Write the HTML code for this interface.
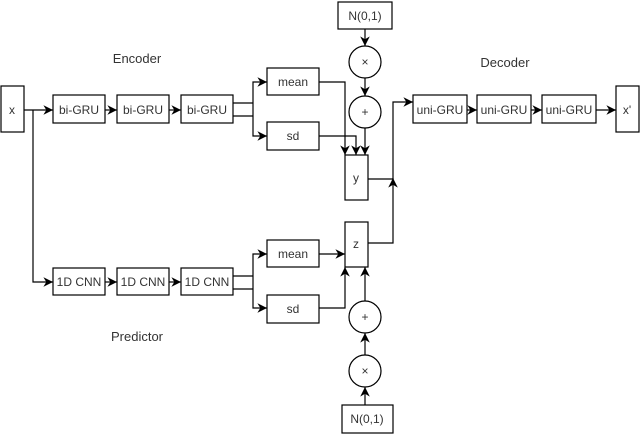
<!DOCTYPE html>
<html><head><style>body{margin:0;background:#fff}svg{display:block}</style></head><body>
<svg width="640" height="434" viewBox="0 0 640 434" xmlns="http://www.w3.org/2000/svg" font-family="Liberation Sans, sans-serif" font-size="12" fill="none" stroke="#000" stroke-width="1.2">
<defs><marker id="a" viewBox="0 0 10 10" refX="10" refY="5" markerWidth="8" markerHeight="8" orient="auto"><path d="M0,0L10,5L0,10L3,5z" fill="#000" stroke="none"/></marker></defs>
<g fill="#fff">
<rect x="1" y="86" width="23" height="46"/>
<rect x="53" y="95" width="52" height="28"/><rect x="117" y="95" width="52" height="28"/><rect x="181" y="95" width="52" height="28"/>
<rect x="53" y="268" width="52" height="27"/><rect x="117" y="268" width="52" height="27"/><rect x="181" y="268" width="52" height="27"/>
<rect x="267" y="68" width="52" height="27"/><rect x="267" y="122" width="52" height="28"/>
<rect x="267" y="240" width="52" height="27"/><rect x="267" y="295" width="52" height="28"/>
<rect x="345" y="155" width="23" height="45"/><rect x="345" y="222" width="23" height="45"/>
<rect x="338" y="2" width="54" height="27"/><rect x="342" y="405" width="51" height="28"/>
<circle cx="365" cy="62" r="16"/><circle cx="365" cy="112" r="16"/>
<circle cx="365" cy="317" r="16"/><circle cx="365" cy="371" r="16"/>
<rect x="413" y="95" width="54" height="28"/><rect x="477" y="95" width="54" height="28"/><rect x="542" y="95" width="54" height="28"/>
<rect x="616" y="86" width="23" height="46"/>
</g>
<g marker-end="url(#a)">
<path d="M24 110H53"/><path d="M105 110H117"/><path d="M169 110H181"/>
<path d="M33 110V282H53"/><path d="M105 282H117"/><path d="M169 282H181"/>
<path d="M253 102V82H267"/><path d="M253 116V136H267"/>
<path d="M253 275V254H267"/><path d="M253 289V308H267"/>
<path d="M319 82H345V155"/><path d="M319 136H356V155"/>
<path d="M365 29V46"/><path d="M365 78V96"/><path d="M365 128V155"/>
<path d="M319 254H345"/><path d="M319 308H345V267"/>
<path d="M365 301V267"/><path d="M365 355V333"/><path d="M365 405V387"/>
<path d="M368 179H393V178"/>
<path d="M368 243H393V102H413"/>
<path d="M467 110H477"/><path d="M531 110H542"/><path d="M596 110H616"/>
</g>
<path d="M233 103H253M233 116H253M253 102V116M233 276H253M233 289H253M253 275V289"/>
<g fill="#333" stroke="none" text-anchor="middle">
<text x="137" y="63" font-size="13">Encoder</text>
<text x="505" y="67" font-size="13">Decoder</text>
<text x="137" y="341" font-size="13">Predictor</text>
<text x="12" y="114">x</text><text x="627" y="114">x'</text>
<text x="79" y="114">bi-GRU</text><text x="143" y="114">bi-GRU</text><text x="207" y="114">bi-GRU</text>
<text x="79" y="286">1D CNN</text><text x="143" y="286">1D CNN</text><text x="207" y="286">1D CNN</text>
<text x="293" y="86">mean</text><text x="293" y="140">sd</text>
<text x="293" y="258">mean</text><text x="293" y="313">sd</text>
<text x="356" y="182">y</text><text x="356" y="248">z</text>
<text x="365" y="20">N(0,1)</text><text x="367" y="423">N(0,1)</text>
<text x="365" y="66">×</text><text x="365" y="116">+</text><text x="365" y="321">+</text><text x="365" y="375">×</text>
<text x="440" y="114">uni-GRU</text><text x="504" y="114">uni-GRU</text><text x="569" y="114">uni-GRU</text>
</g>
</svg>
</body></html>
